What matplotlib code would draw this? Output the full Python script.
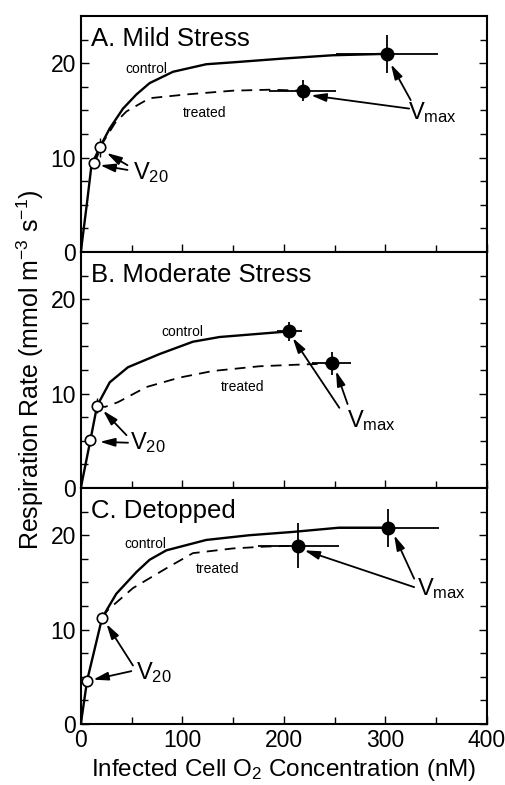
import numpy as np
import matplotlib
matplotlib.use('Agg')
import matplotlib.pyplot as plt

plt.rcParams['font.family'] = ['Liberation Sans', 'DejaVu Sans']
plt.rcParams['mathtext.fontset'] = 'custom'
plt.rcParams['mathtext.rm'] = 'Liberation Sans'
plt.rcParams['mathtext.it'] = 'Liberation Sans'
plt.rcParams['mathtext.default'] = 'regular'

# Panel titles
titles = ['A. Mild Stress', 'B. Moderate Stress', 'C. Detopped']

# control curves
ctrl_x = [
    [0, 6.2, 10.5, 18.7, 28.5, 41.6, 54.8, 67.8, 90.8, 123.6, 149.8, 199, 248, 301.5],
    [0, 9.5, 16, 28.5, 46.5, 77.7, 110.4, 136.7, 205.5],
    [0, 6.2, 21, 35, 54.8, 67.8, 84.3, 123.6, 166, 208.8, 254.7, 303],
]
ctrl_y = [
    [0, 5.3, 9.2, 11.1, 13.1, 15.2, 16.7, 17.9, 19.1, 19.9, 20.1, 20.5, 20.85, 21.0],
    [0, 5.1, 8.7, 11.2, 12.8, 14.2, 15.5, 16.0, 16.6],
    [0, 4.6, 11.25, 13.8, 16.1, 17.4, 18.4, 19.5, 20.0, 20.35, 20.8, 20.8],
]
# treated curves
trt_x = [
    [13.3, 22.3, 33.9, 45, 67.8, 104, 150, 186, 218.6],
    [16, 24, 36.7, 64.6, 97.3, 130, 176, 208.8, 247],
    [21, 26.8, 51.4, 84.3, 110.4, 149.8, 182.6, 214.4],
]
trt_y = [
    [9.4, 11.7, 13.7, 14.9, 16.3, 16.7, 17.1, 17.2, 17.1],
    [8.7, 8.6, 9.1, 10.7, 11.7, 12.4, 12.9, 13.05, 13.2],
    [11.25, 12.1, 14.4, 16.5, 18.1, 18.6, 18.8, 18.9],
]

# Vmax points (control, treated) with error
vmax_x = [[301.5, 218.6], [205.5, 247], [303, 214.4]]
vmax_y = [[21.0, 17.1], [16.6, 13.2], [20.8, 18.9]]
vmax_xerr = [[50, 33], [12, 19], [50, 39.5]]
vmax_yerr = [[2.0, 1.1], [1.0, 1.2], [2.0, 2.35]]

# V20 points
v20_x = [[13.3, 18.7], [9.5, 16], [6.2, 21]]
v20_y = [[9.4, 11.1], [5.1, 8.7], [4.6, 11.25]]
v20_yerr = [[0, 1.0], [0, 0.8], [0, 0.6]]

# label positions
ctrl_lbl = [(65, 19.4), (100, 16.5), (63.7, 19.1)]
trt_lbl = [(122, 14.7), (159, 10.7), (135, 16.4)]
v20_lbl = [(51, 8.4), (48, 4.8), (54.7, 5.4)]
vmax_lbl = [(322, 14.8), (262.5, 7.2), (331.7, 14.4)]
# arrows: (start, end)
v20_arrows = [
    [((46, 8.7), (19, 9.2)), ((46, 9.2), (25.5, 10.5))],
    [((46.5, 4.8), (18.7, 4.9)), ((45, 5.6), (22, 8.2))],
    [((49.8, 5.6), (12.1, 4.7)), ((51.4, 6.2), (25.3, 10.6))],
]
vmax_arrows = [
    [((323.5, 15.2), (226.8, 16.6)), ((325, 16.1), (305.5, 19.9))],
    [((254.7, 8.5), (208.8, 15.9)), ((262.8, 8.9), (251.4, 12.4))],
    [((328.4, 14.5), (220.3, 18.4)), ((328.4, 15.4), (308.7, 20.0))],
]

fig = plt.figure(figsize=(5.05, 7.85), dpi=100)
left, width = 0.160, 0.804
h = 0.3006
bottoms = [0.0777 + 2 * h, 0.0777 + h, 0.0777]

arrowprops = dict(arrowstyle='-|>,head_length=0.9,head_width=0.25',
                  color='k', lw=1.3, shrinkA=0, shrinkB=0)

for i in range(3):
    ax = fig.add_axes([left, bottoms[i], width, h])
    ax.plot(ctrl_x[i], ctrl_y[i], color='k', lw=1.7, zorder=2)
    ax.plot(trt_x[i], trt_y[i], color='k', lw=1.3, dashes=(6, 4), zorder=2)
    for j in range(2):
        ax.errorbar(vmax_x[i][j], vmax_y[i][j], xerr=vmax_xerr[i][j],
                    yerr=vmax_yerr[i][j], fmt='o', color='k', ms=9,
                    elinewidth=1.3, capsize=0, zorder=4)
        ax.errorbar(v20_x[i][j], v20_y[i][j], yerr=v20_yerr[i][j] or None,
                    fmt='o', mfc='white', mec='k', mew=1.2, ms=7.5,
                    ecolor='k', elinewidth=1.0, capsize=0, zorder=5)
        s, e = v20_arrows[i][j]
        ax.annotate('', xy=e, xytext=s, arrowprops=arrowprops, zorder=6)
        s, e = vmax_arrows[i][j]
        ax.annotate('', xy=e, xytext=s, arrowprops=arrowprops, zorder=6)
    ax.text(*ctrl_lbl[i], 'control', fontsize=10, ha='center', va='center')
    ax.text(*trt_lbl[i], 'treated', fontsize=10, ha='center', va='center')
    ax.text(*v20_lbl[i], r'V$_{20}$', fontsize=17, ha='left', va='center')
    ax.text(*vmax_lbl[i], r'V$_{\rm max}$', fontsize=17, ha='left', va='center')
    ax.text(0.025, 0.955, titles[i], transform=ax.transAxes, fontsize=18.5,
            ha='left', va='top')

    ax.set_xlim(0, 400)
    ax.set_ylim(0, 25)
    ax.set_xticks([0, 100, 200, 300, 400])
    ax.set_xticks(np.arange(0, 401, 50), minor=True)
    ax.set_yticks([0, 10, 20])
    ax.set_yticks(np.arange(0, 25, 2.5), minor=True)
    ax.tick_params(which='both', direction='in', right=True, top=False,
                   labelsize=16.5, width=1.0)
    ax.tick_params(which='major', length=6)
    ax.tick_params(which='minor', length=5)
    for sp in ax.spines.values():
        sp.set_linewidth(1.5)
    if i < 2:
        ax.set_xticklabels([])
    else:
        ax.set_xlabel('Infected Cell O$_2$ Concentration (nM)', fontsize=17.5,
                      labelpad=4)
    if i == 1:
        ax.set_ylabel('Respiration Rate (mmol m$^{-3}$ s$^{-1}$)', fontsize=18,
                      labelpad=3)

fig.savefig('out.png', dpi=100)
